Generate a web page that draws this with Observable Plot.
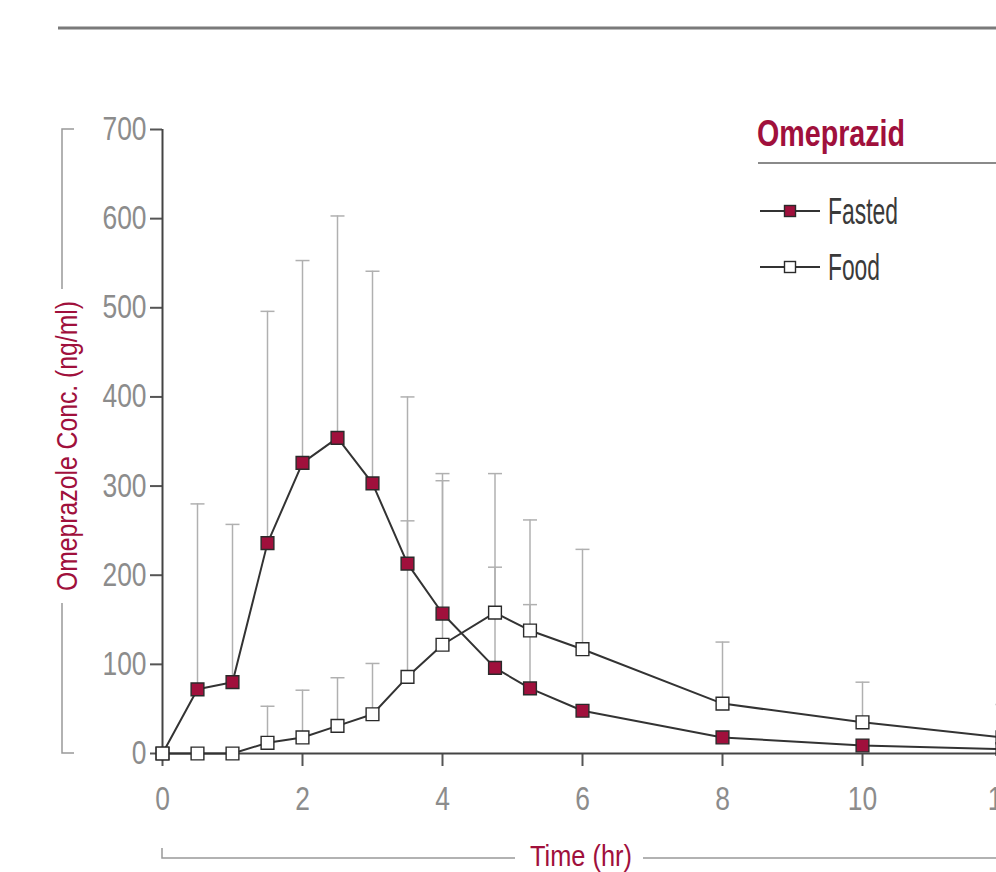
<!DOCTYPE html>
<html><head><meta charset="utf-8">
<script src="https://cdn.jsdelivr.net/npm/d3@7"></script>
<script src="https://cdn.jsdelivr.net/npm/@observablehq/plot@0.6"></script>
<style>
html,body{margin:0;padding:0;background:#fff;overflow:hidden;width:996px;height:872px}
#wrap{position:relative;width:996px;height:872px;overflow:hidden}
#wrap svg{display:block;max-width:none !important;width:1050px;height:872px}
</style></head><body><div id="wrap"></div>
<script>
// ---- data ----
const times       = [0, 0.5, 1, 1.5, 2, 2.5, 3, 3.5, 4, 4.75, 5.25, 6, 8, 10, 12];
const fasted      = [0, 72, 80, 236, 326, 354, 303, 213, 157, 96, 73, 48, 18, 9, 5];
const fastedUpper = [null, 280, 257, 496, 553, 603, 541, 400, 314, 209, 167, null, null, null, null];
const food        = [0, 0, 0, 12, 18, 31, 44, 86, 122, 158, 138, 117, 56, 35, 18];
const foodUpper   = [null, null, null, 53, 71, 85, 101, 261, 306, 314, 262, 229, 125, 80, 55];
const seriesNames = ["Fasted", "Food"];
const xTicks = [0, 2, 4, 6, 8, 10, 12];
const yTicks = [0, 100, 200, 300, 400, 500, 600, 700];
const legendTitle = "Omeprazid";
const yLabel = "Omeprazole Conc. (ng/ml)";
const xLabel = "Time (hr)";

const CRIMSON = "#a0103c";
const FONT = "'Liberation Sans Narrow','Liberation Sans',Arimo,sans-serif";

const rows = [];
times.forEach((t, i) => {
  rows.push({series: "Fasted", t, v: fasted[i], u: fastedUpper[i]});
  rows.push({series: "Food", t, v: food[i], u: foodUpper[i]});
});
const errs = rows.filter(d => d.u != null);

const capSymbol = {draw(ctx) { ctx.moveTo(-7, 0); ctx.lineTo(7, 0); }};

const chart = Plot.plot({
  width: 1050, height: 872,
  marginLeft: 162, marginRight: 48, marginTop: 129, marginBottom: 119,
  style: {fontFamily: FONT, fontSize: "33px", background: "transparent"},
  x: {domain: [0, 12]},
  y: {domain: [0, 700]},
  marks: [
    Plot.axisY({ticks: yTicks, tickSize: 12, tickPadding: 4, label: null, color: "#8c8c8c"}),
    Plot.axisX({ticks: xTicks, tickSize: 13, tickPadding: 20, label: null, color: "#8c8c8c"}),
    Plot.ruleX(errs, {x: "t", y1: "v", y2: "u", stroke: "#b0b0b0", strokeWidth: 1.5}),
    Plot.dot(errs, {x: "t", y: "u", symbol: capSymbol, stroke: "#b0b0b0", strokeWidth: 1.5, r: 7}),
    Plot.ruleX([0], {y1: 0, y2: 700, stroke: "#444", strokeWidth: 2}),
    Plot.ruleY([0], {stroke: "#444", strokeWidth: 2}),
    Plot.line(rows, {x: "t", y: "v", z: "series", stroke: "#333", strokeWidth: 2}),
    Plot.dot(rows, {x: "t", y: "v", symbol: "square", r: 7.2,
      fill: d => d.series === "Fasted" ? CRIMSON : "#fff", stroke: "#2a2a2a", strokeWidth: 1.4})
  ]
});
document.getElementById("wrap").appendChild(chart);

const svg = d3.select(chart);
// tick colours
svg.selectAll('g[aria-label="y-axis tick"], g[aria-label="x-axis tick"]')
  .attr("stroke", "#555").attr("stroke-width", 2);
// condense tick labels
svg.selectAll('g[aria-label="y-axis tick label"] text, g[aria-label="x-axis tick label"] text')
  .each(function () {
    const w = this.getComputedTextLength();
    this.setAttribute("textLength", w * 0.8);
    this.setAttribute("lengthAdjust", "spacingAndGlyphs");
  });

const xs = chart.scale("x"), ys = chart.scale("y");
const X0 = xs.apply(0), Ytop = ys.apply(700), Ybot = ys.apply(0);

function fitText(sel, w) {
  sel.attr("textLength", w).attr("lengthAdjust", "spacingAndGlyphs");
}

// top rule
svg.append("line").attr("x1", 58).attr("x2", 1050).attr("y1", 28).attr("y2", 28)
  .attr("stroke", "#7a7a7a").attr("stroke-width", 3);

// y label bracket
const bx = 62, midY = (Ytop + Ybot) / 2;
const g = svg.append("g").attr("stroke", "#999").attr("stroke-width", 1.5).attr("fill", "none");
g.append("path").attr("d", `M${bx + 12},${Ytop}H${bx}V${midY - 152}`);
g.append("path").attr("d", `M${bx},${midY + 162}V${Ybot}H${bx + 12}`);
const yl = svg.append("text").attr("transform", `translate(${bx + 4},${midY + 5}) rotate(-90)`)
  .attr("text-anchor", "middle").attr("dy", "0.35em").attr("fill", CRIMSON)
  .attr("font-family", FONT).attr("font-size", 30).text(yLabel);
fitText(yl, 290);

// x label bracket
const by = 858, xc = 581;
const g2 = svg.append("g").attr("stroke", "#999").attr("stroke-width", 1.5).attr("fill", "none");
g2.append("path").attr("d", `M${X0},${by - 10}V${by}H${xc - 66}`);
g2.append("path").attr("d", `M${xc + 62},${by}H1050`);
const xl = svg.append("text").attr("x", xc).attr("y", by + 8)
  .attr("text-anchor", "middle").attr("fill", CRIMSON)
  .attr("font-family", FONT).attr("font-size", 30).text(xLabel);
fitText(xl, 102);

// legend
const lt = svg.append("text").attr("x", 757).attr("y", 146).attr("fill", CRIMSON)
  .attr("text-anchor", "start")
  .attr("font-family", FONT).attr("font-weight", "bold").attr("font-size", 36).text(legendTitle);
fitText(lt, 148);
svg.append("line").attr("x1", 758).attr("x2", 1050).attr("y1", 163).attr("y2", 163)
  .attr("stroke", "#8a8a8a").attr("stroke-width", 2);
const legY = [211, 267], legW = [70, 52];
seriesNames.forEach((name, i) => {
  const y = legY[i];
  svg.append("line").attr("x1", 760).attr("x2", 820).attr("y1", y).attr("y2", y)
    .attr("stroke", "#333").attr("stroke-width", 2);
  svg.append("rect").attr("x", 790 - 5.5).attr("y", y - 5.5).attr("width", 11).attr("height", 11)
    .attr("fill", i === 0 ? CRIMSON : "#fff").attr("stroke", "#2a2a2a").attr("stroke-width", 1.4);
  const t = svg.append("text").attr("x", 828).attr("y", y).attr("dy", "0.36em")
    .attr("text-anchor", "start")
    .attr("fill", "#3a3a3a").attr("font-family", FONT).attr("font-size", 36).text(name);
  fitText(t, legW[i]);
});
</script>
</body></html>
